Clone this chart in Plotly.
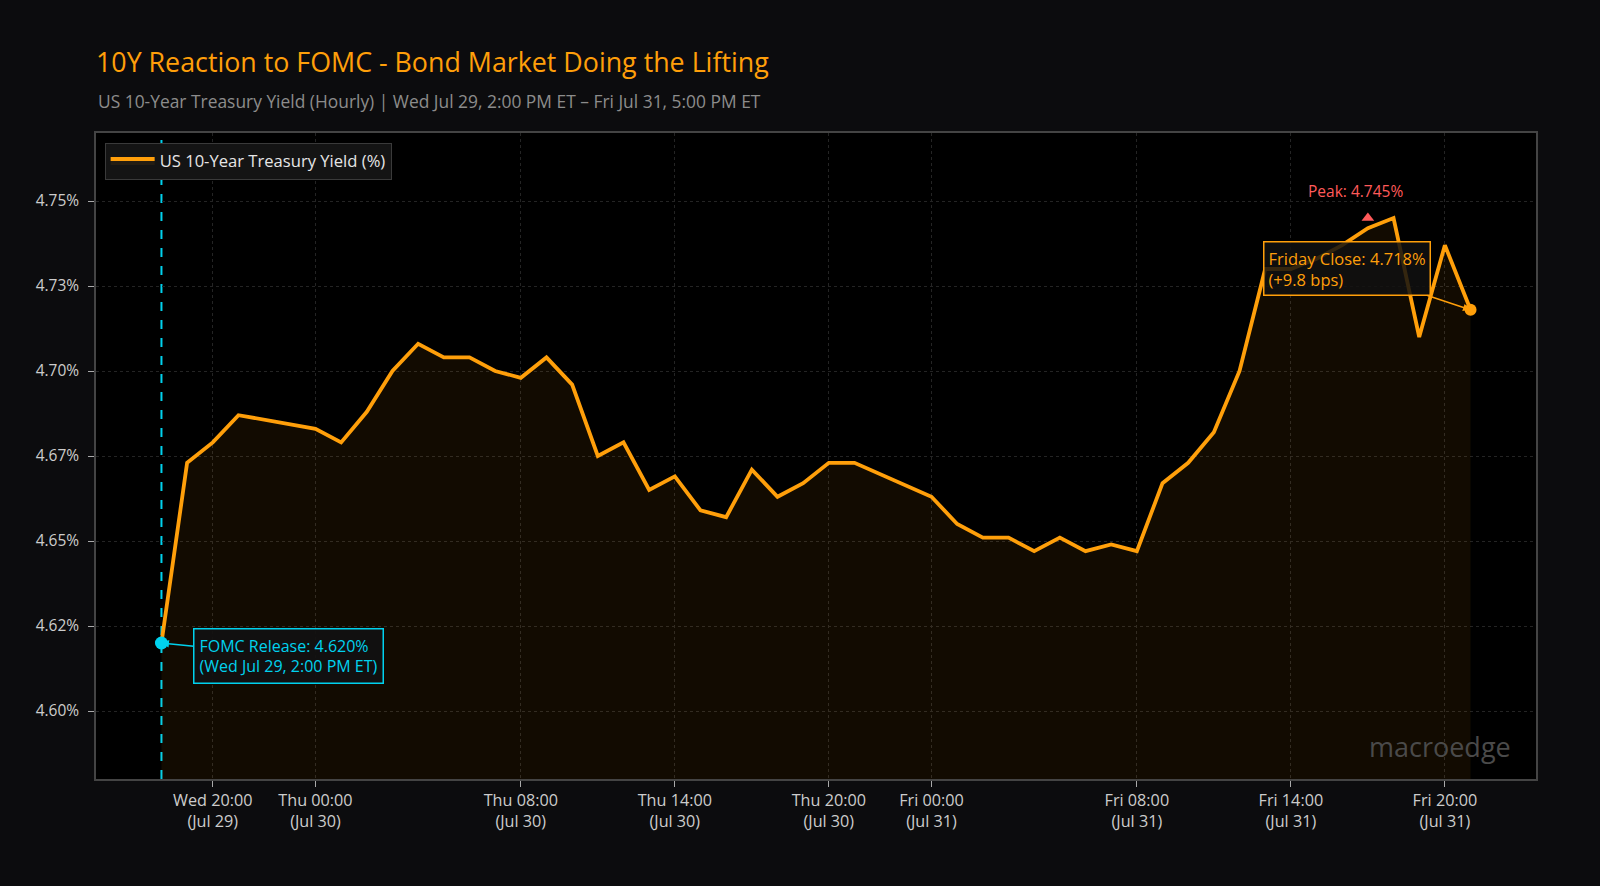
import pandas as pd
import plotly.graph_objects as go

# Hourly 10Y yield (timestamps as shown on the x axis)
times = [
    "2026-07-29 18:00", "2026-07-29 19:00", "2026-07-29 20:00", "2026-07-29 21:00",
    "2026-07-30 00:00", "2026-07-30 01:00", "2026-07-30 02:00", "2026-07-30 03:00",
    "2026-07-30 04:00", "2026-07-30 05:00", "2026-07-30 06:00", "2026-07-30 07:00",
    "2026-07-30 08:00", "2026-07-30 09:00", "2026-07-30 10:00", "2026-07-30 11:00",
    "2026-07-30 12:00", "2026-07-30 13:00", "2026-07-30 14:00", "2026-07-30 15:00",
    "2026-07-30 16:00", "2026-07-30 17:00", "2026-07-30 18:00", "2026-07-30 19:00",
    "2026-07-30 20:00", "2026-07-30 21:00",
    "2026-07-31 00:00", "2026-07-31 01:00", "2026-07-31 02:00", "2026-07-31 03:00",
    "2026-07-31 04:00", "2026-07-31 05:00", "2026-07-31 06:00", "2026-07-31 07:00",
    "2026-07-31 08:00", "2026-07-31 09:00", "2026-07-31 10:00", "2026-07-31 11:00",
    "2026-07-31 12:00", "2026-07-31 13:00", "2026-07-31 14:00", "2026-07-31 15:00",
    "2026-07-31 16:00", "2026-07-31 17:00", "2026-07-31 18:00", "2026-07-31 19:00",
    "2026-07-31 20:00", "2026-07-31 21:00",
]
yields = [
    4.620, 4.673, 4.679, 4.687,
    4.683, 4.679, 4.688, 4.700,
    4.708, 4.704, 4.704, 4.700,
    4.698, 4.704, 4.696, 4.675,
    4.679, 4.665, 4.669, 4.659,
    4.657, 4.671, 4.663, 4.667,
    4.673, 4.673,
    4.663, 4.655, 4.651, 4.651,
    4.647, 4.651, 4.647, 4.649,
    4.647, 4.667, 4.673, 4.682,
    4.700, 4.730, 4.730, 4.733,
    4.737, 4.742, 4.745, 4.710,
    4.737, 4.718,
]

x_tickvals = [
    "2026-07-29 20:00", "2026-07-30 00:00", "2026-07-30 08:00", "2026-07-30 14:00",
    "2026-07-30 20:00", "2026-07-31 00:00", "2026-07-31 08:00", "2026-07-31 14:00",
    "2026-07-31 20:00",
]
x_ticktext = [
    "Wed 20:00<br>(Jul 29)", "Thu 00:00<br>(Jul 30)", "Thu 08:00<br>(Jul 30)",
    "Thu 14:00<br>(Jul 30)", "Thu 20:00<br>(Jul 30)", "Fri 00:00<br>(Jul 31)",
    "Fri 08:00<br>(Jul 31)", "Fri 14:00<br>(Jul 31)", "Fri 20:00<br>(Jul 31)",
]
y_tickvals = [4.600, 4.625, 4.650, 4.675, 4.700, 4.725, 4.750]
y_ticktext = ["4.60%", "4.62%", "4.65%", "4.67%", "4.70%", "4.73%", "4.75%"]

ORANGE = "#ff9f0a"
CYAN = "#00d2ee"
RED = "#ff5a5a"
FONT = "Open Sans"

ts = pd.to_datetime(times)
peak_i = yields.index(max(yields))
change_bps = (yields[-1] - yields[0]) * 100

fig = go.Figure()

# Yield line with light fill
fig.add_trace(go.Scatter(
    x=ts, y=yields, mode="lines",
    line=dict(color=ORANGE, width=3.8),
    fill="tozeroy", fillcolor="rgba(255,159,10,0.07)",
    name="US 10-Year Treasury Yield (%)",
))

# FOMC point
fig.add_trace(go.Scatter(
    x=[ts[0]], y=[yields[0]], mode="markers",
    marker=dict(color=CYAN, size=13), showlegend=False, hoverinfo="skip",
))

# Close point
fig.add_trace(go.Scatter(
    x=[ts[-1]], y=[yields[-1]], mode="markers",
    marker=dict(color=ORANGE, size=12), showlegend=False, hoverinfo="skip",
))

# Peak marker
fig.add_trace(go.Scatter(
    x=[ts[peak_i - 1]], y=[yields[peak_i]], mode="markers",
    marker=dict(color=RED, size=11, symbol="triangle-up"),
    showlegend=False, hoverinfo="skip",
))

# FOMC release vertical line
fig.add_shape(type="line", x0=ts[0], x1=ts[0], yref="paper", y0=0, y1=1,
              line=dict(color=CYAN, width=2, dash="dash"), layer="below")

fig.add_annotation(
    x=ts[0], y=yields[0], ax=127, ay=13,
    text="FOMC Release: %.3f%%<br>(Wed Jul 29, 2:00 PM ET)" % yields[0],
    align="left", font=dict(family=FONT, size=16, color=CYAN),
    bgcolor="rgba(17,17,17,0.92)", bordercolor=CYAN, borderwidth=1.5, borderpad=5,
    showarrow=True, arrowhead=2, arrowsize=1, arrowwidth=1.5, arrowcolor=CYAN,
)

fig.add_annotation(
    x=ts[-1], y=yields[-1], ax=-124, ay=-41,
    text="Friday Close: %.3f%%<br>(+%.1f bps)" % (yields[-1], change_bps),
    align="left", font=dict(family=FONT, size=16.5, color=ORANGE),
    bgcolor="rgba(17,17,17,0.85)", bordercolor=ORANGE, borderwidth=1.5, borderpad=4,
    showarrow=True, arrowhead=2, arrowsize=1, arrowwidth=1.5, arrowcolor=ORANGE,
)

fig.add_annotation(
    x=ts[peak_i - 1], y=yields[peak_i], yshift=27, xshift=-12,
    text="Peak: %.3f%%" % yields[peak_i], showarrow=False,
    font=dict(family=FONT, size=15.5, color=RED),
)

# Subtitle
fig.add_annotation(
    xref="paper", yref="paper", x=0, y=1.0495, xanchor="left", yanchor="middle",
    text="US 10-Year Treasury Yield (Hourly) | Wed Jul 29, 2:00 PM ET \u2013 Fri Jul 31, 5:00 PM ET",
    showarrow=False, font=dict(family=FONT, size=17.4, color="#8c8c8c"),
)

# Watermark
fig.add_annotation(
    xref="paper", yref="paper", x=0.984, y=0.05, xanchor="right", yanchor="middle",
    text="macroedge", showarrow=False,
    font=dict(family=FONT, size=27, color="#4a4a4a"),
)

fig.update_layout(
    width=1600, height=886,
    title=dict(text="10Y Reaction to FOMC - Bond Market Doing the Lifting",
               x=96 / 1600, xanchor="left", yref="container", y=1 - 63 / 886, yanchor="middle",
               font=dict(family=FONT, size=26.8, color=ORANGE)),
    paper_bgcolor="#0c0c0e",
    plot_bgcolor="#000000",
    margin=dict(l=96, r=64, t=133, b=107),
    font=dict(family=FONT, color="#cccccc"),
    legend=dict(x=0.006, y=0.985, xanchor="left", yanchor="top",
                bgcolor="#141414", bordercolor="#3a3a3a", borderwidth=1,
                itemwidth=44, tracegroupgap=0,
                font=dict(family=FONT, size=16.6, color="#e6e6e6")),
    showlegend=True,
)

fig.update_xaxes(
    type="date",
    range=["2026-07-29 15:27", "2026-07-31 23:33"],
    tickvals=pd.to_datetime(x_tickvals), ticktext=x_ticktext,
    tickfont=dict(family=FONT, size=16.2, color="#cccccc"),
    ticks="outside", ticklen=6, tickcolor="#aaaaaa",
    showgrid=True, gridcolor="#242424", gridwidth=1, griddash="dot",
    showline=True, linecolor="#444444", linewidth=1.5, mirror=True,
    zeroline=False,
)

fig.update_yaxes(
    range=[4.58, 4.77],
    tickvals=y_tickvals, ticktext=y_ticktext,
    tickfont=dict(family=FONT, size=15.5, color="#cccccc"),
    ticks="outside", ticklen=6, tickcolor="#aaaaaa", ticklabelstandoff=6,
    showgrid=True, gridcolor="#242424", gridwidth=1, griddash="dot",
    showline=True, linecolor="#444444", linewidth=1.5, mirror=True,
    zeroline=False,
)

fig.write_html("out.html", config={"displayModeBar": False},
               post_script="document.body.style.margin='0px';")
